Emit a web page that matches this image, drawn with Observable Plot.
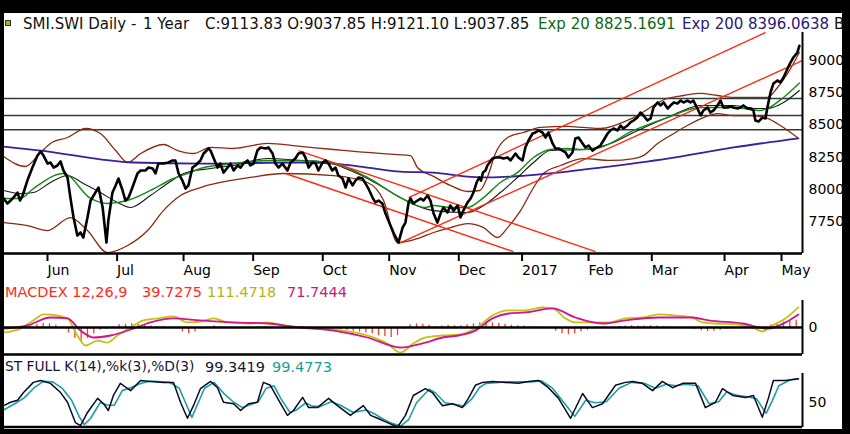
<!DOCTYPE html>
<html><head><meta charset="utf-8">
<script src="https://cdn.jsdelivr.net/npm/d3@7"></script>
<script src="https://cdn.jsdelivr.net/npm/@observablehq/plot@0.6"></script>
<style>
html,body{margin:0;padding:0;background:#fff;}
#wrap{position:relative;width:850px;height:434px;background:#fff;overflow:hidden;font-family:"DejaVu Sans",sans-serif;}
#border{position:absolute;left:0;top:0;width:850px;height:434px;box-sizing:border-box;border-style:solid;border-color:#000;border-width:13px 8px 5px 4px;z-index:20;pointer-events:none;}
.t{position:absolute;white-space:nowrap;line-height:1;}
.h{font-size:15px;top:17px;}
.s{font-size:14.5px;}
#icon{position:absolute;left:5px;top:20px;width:4px;height:4px;background:#a8a830;border:1px solid #333;}
</style></head>
<body><div id="wrap">
<div id="icon"></div>
<span class="t h" style="left:23px;color:#111">SMI.SWI Daily -</span>
<span class="t h" style="left:143px;color:#111">1 Year</span>
<span class="t h" style="left:205px;color:#111">C:9113.83 O:9037.85 H:9121.10 L:9037.85</span>
<span class="t h" style="left:538px;color:#0e6a12">Exp 20 8825.1691</span>
<span class="t h" style="left:682px;color:#2c1878">Exp 200 8396.0638</span>
<span class="t h" style="left:834px;color:#111">Bo</span>
<span class="t s" style="left:5px;top:285px;color:#ff2a1a">MACDEX 12,26,9</span>
<span class="t s" style="left:142px;top:285px;color:#ff2a1a">39.7275</span>
<span class="t s" style="left:207px;top:285px;color:#b4b414">111.4718</span>
<span class="t s" style="left:287px;top:285px;color:#c4187c">71.7444</span>
<span class="t s" style="left:5px;top:360px;color:#141432;font-size:13.8px">ST FULL K(14),%k(3),%D(3)</span>
<span class="t s" style="left:205px;top:360px;color:#141432">99.3419</span>
<span class="t s" style="left:272px;top:360px;color:#1a9e96">99.4773</span>
<div id="border"></div>
</div>
<script>
// ---- axis / reference values ----
const monthDays=[0,22,43,65,87,108,130,150,171,191,214,232];
const monthLabels=["Jun","Jul","Aug","Sep","Oct","Nov","Dec","2017","Feb","Mar","Apr","May"];
const priceTicks=[7750,8000,8250,8500,8750,9000];
const supportLevels=[8705,8573,8462];
const xDomain=[-14.54,238.0];
const priceDomain=[7502,9217];

// ---- close (trading-day index from 1 Jun 2016) ----
const closeDay=[-14.5,-13.3,-12.3,-11.4,-10.1,-9.3,-8.5,-7.0,-5.4,-3.8,-2.8,-1.9,-0.6,0.3,1.3,2.5,3.5,4.4,5.7,6.6,7.6,8.8,9.8,10.7,12.0,13.0,14.5,15.5,16.8,18.0,18.6,19.9,20.9,21.8,23.1,24.0,25.0,26.2,27.8,28.8,30.3,31.3,32.6,33.5,34.4,36.0,37.6,38.9,39.8,40.8,42.0,43.0,43.9,45.2,46.1,47.7,48.7,50.3,50.9,51.8,53.1,54.0,55.0,56.3,57.2,58.2,59.4,60.4,61.3,62.6,63.5,64.5,65.7,66.7,68.3,69.2,70.5,71.4,72.4,73.6,75.2,76.2,77.7,78.7,80.0,80.9,81.9,83.1,84.1,85.0,86.3,87.2,88.2,89.4,90.4,91.3,92.6,93.6,94.5,95.8,96.7,97.7,98.9,99.9,100.8,102.1,103.0,104.0,105.2,106.2,107.1,108.7,110.3,111.6,112.5,113.5,114.1,115.0,116.3,117.3,118.2,119.5,120.4,121.4,122.6,123.6,124.5,125.8,126.7,127.7,129.0,129.9,130.8,132.1,133.1,134.0,135.0,135.8,136.4,137.0,137.8,138.4,140.0,141.0,142.5,143.5,144.8,145.7,147.3,148.2,149.5,150.4,151.4,152.7,153.6,154.6,155.8,156.8,157.7,159.0,159.9,160.9,162.1,163.1,164.0,165.3,166.2,167.2,168.5,169.4,170.4,171.6,172.6,174.1,175.1,176.4,177.3,178.3,179.5,180.5,181.4,182.7,183.6,184.6,185.8,186.8,187.7,189.0,190.0,190.9,192.2,193.2,194.1,195.4,196.3,197.3,198.5,199.5,200.4,201.6,202.6,203.5,204.8,205.8,206.7,208.0,208.9,209.9,211.1,212.1,213.0,214.3,215.2,216.2,217.5,218.4,219.3,220.6,221.6,222.5,223.1,224.1,225.3,226.3,226.9,227.9,228.8,230.1,231.0,232.0,233.3,234.2,235.1,236.4,237.0];
const closeVal=[7929,7890,7913,7936,7975,7913,7952,8068,8169,8262,8293,8262,8200,8208,8169,8185,8216,8146,8092,7936,7781,7641,7665,7626,7781,7913,7975,8014,7859,7587,7758,7975,8030,8084,7991,7913,7936,8014,8123,8146,8146,8169,8162,8123,8200,8200,8208,8224,8224,8123,8068,8006,8030,8169,8185,8224,8278,8317,8301,8247,8169,8200,8130,8169,8200,8146,8185,8169,8200,8224,8185,8200,8301,8325,8317,8325,8278,8200,8169,8200,8146,8208,8239,8278,8286,8247,8169,8208,8200,8146,8208,8224,8200,8146,8169,8107,8084,8014,8084,8030,8068,8092,8084,8045,8006,7936,7898,7913,7890,7812,7758,7665,7587,7703,7742,7898,7929,7890,7913,7929,7913,7952,7913,7812,7742,7812,7859,7820,7874,7835,7874,7781,7835,7898,7929,7975,8053,8092,8068,8130,8146,8185,8239,8247,8247,8239,8247,8224,8278,8247,8224,8325,8379,8433,8441,8457,8441,8402,8441,8356,8317,8317,8301,8286,8247,8286,8394,8402,8356,8325,8340,8301,8317,8340,8379,8433,8457,8472,8457,8495,8472,8495,8519,8534,8557,8596,8573,8534,8550,8635,8674,8651,8674,8627,8651,8674,8666,8689,8674,8689,8674,8689,8627,8573,8612,8635,8596,8612,8651,8689,8635,8635,8643,8635,8627,8635,8651,8627,8627,8612,8534,8526,8557,8550,8635,8752,8821,8845,8829,8868,8938,8984,9023,9062,9114];

// ---- overlays ----
const ema200Day=[-14.5,-2.8,26.5,47.7,79.3,89.8,100.5,110.9,121.4,132.1,139.4,150.4,163.7,174.1,195.3,216.2,236.7];
const ema200Val=[8332,8301,8208,8200,8208,8200,8169,8138,8130,8099,8092,8107,8138,8169,8239,8325,8396];
const ema20Day=[-14.5,-9.2,-5.1,4.4,13.0,18.3,24.6,31.9,39.2,43.6,47.7,58.2,68.9,79.3,89.8,100.5,110.9,118.8,121.4,126.7,132.1,137.2,142.5,147.9,153.0,158.3,163.7,168.8,174.1,184.6,195.3,205.8,216.2,224.7,226.9,232.0,237.0];
const ema20Val=[7929,7929,8006,8123,7929,7890,7913,7991,8084,8123,8162,8200,8224,8224,8200,8092,7936,7859,7874,7859,7859,7936,8053,8130,8247,8309,8317,8309,8325,8457,8557,8635,8635,8612,8627,8713,8825];
const bbMidDay=[-14.5,-9.2,-5.1,0.3,5.7,10.7,16.1,21.5,25.6,31.9,37.3,42.4,50.9,58.2,68.9,79.3,87.9,95.1,100.5,105.6,110.9,121.4,132.1,137.2,142.5,147.9,153.0,158.3,168.8,177.3,184.6,195.3,205.8,216.2,223.8,226.9,232.0,237.0];
const bbMidVal=[7991,7967,7975,8053,8107,8045,7975,7898,7859,7952,8045,8123,8162,8185,8239,8224,8208,8146,8084,8014,7936,7835,7820,7874,7975,8092,8208,8301,8309,8356,8441,8557,8651,8651,8627,8627,8674,8767];
const bbUpDay=[-14.5,-7.6,-2.8,0.3,5.7,11.4,16.1,20.9,24.7,28.8,36.0,40.5,45.5,50.9,58.2,68.9,79.3,89.8,100.5,110.0,114.1,116.3,121.4,126.7,132.1,136.0,138.5,140.8,144.8,149.8,155.2,163.7,168.8,174.1,184.6,195.3,200.4,205.8,211.1,216.2,224.7,226.9,230.1,233.3,237.0];
const bbUpVal=[8255,8177,8286,8356,8402,8472,8433,8301,8208,8278,8348,8301,8278,8325,8317,8356,8333,8309,8286,8270,8262,8169,8100,8030,7983,7991,8100,8270,8402,8441,8480,8488,8480,8472,8557,8705,8728,8744,8728,8713,8713,8713,8790,8899,9062];
const bbLoDay=[-14.5,-7.0,-0.6,6.6,12.0,18.3,24.7,31.0,36.0,41.4,47.7,63.5,74.0,89.8,100.5,105.6,110.0,114.1,116.3,121.4,126.7,132.1,137.2,141.6,144.8,148.9,153.0,156.1,161.5,168.8,177.3,184.6,187.7,192.2,197.3,201.6,206.7,211.1,216.2,221.6,226.9,231.0,236.4];
const bbLoVal=[7742,7719,7680,7781,7680,7509,7564,7680,7835,7952,8014,8092,8123,8107,8053,7913,7587,7602,7618,7665,7703,7734,7703,7626,7703,7835,8014,8123,8185,8239,8224,8239,8262,8356,8433,8495,8557,8588,8573,8573,8550,8495,8402];
const trendX1=[78.7,74.6,110.3,113.5];
const trendY1=[8301,8123,7579,7936];
const trendX2=[172.6,146.6,238.0,226.3];
const trendY2=[7517,7517,8999,9217];

// ---- MACD ----
const macdDay=[-14.5,-9.2,-5.1,-1.9,2.5,5.7,8.8,11.4,15.2,18.3,21.5,26.5,29.7,34.1,39.2,43.6,47.7,51.8,56.3,63.5,68.9,74.0,79.3,89.8,100.5,106.8,110.9,115.0,118.8,124.2,129.3,134.6,140.0,145.1,150.4,155.8,159.0,163.1,166.2,171.6,176.7,182.0,187.4,192.5,197.8,203.2,206.4,210.5,216.8,222.2,225.3,228.5,232.6,236.7];
const macdVal=[-28,-6,39,72,66,50,-44,-99,-72,-83,-44,11,39,50,61,28,33,50,28,22,28,11,0,-11,-44,-88,-138,-88,-55,-44,-39,-6,66,94,94,110,105,50,28,28,28,50,55,72,66,55,28,22,17,0,-22,11,50,111];
const signalDay=[-14.5,-7.0,0.3,5.7,9.8,13.9,19.3,26.5,31.9,39.2,47.7,58.2,68.9,79.3,89.8,100.5,110.9,118.8,124.2,129.3,134.6,140.0,145.1,150.4,159.0,166.2,174.8,182.0,192.5,203.2,208.3,219.0,227.2,232.6,236.7];
const signalVal=[-6,11,55,50,-17,-55,-44,-6,28,50,39,28,22,0,-17,-55,-110,-83,-55,-44,-17,50,77,83,105,55,22,39,55,55,39,22,-6,28,72];
const histDay=[-14,-12,-10,-8,-6,-4,-2,0,2,4,6,8,10,12,14,16,18,20,22,24,26,28,30,32,34,36,38,40,42,44,46,48,50,52,54,56,58,60,62,64,66,68,70,72,74,76,78,80,82,84,86,88,90,92,94,96,98,100,102,104,106,108,110,112,114,116,118,120,122,124,126,128,130,132,134,136,138,140,142,144,146,148,150,152,154,156,158,160,162,164,166,168,170,172,174,176,178,180,182,184,186,188,190,192,194,196,198,200,202,204,206,208,210,212,214,216,218,220,222,224,226,228,230,232,234,236];
const histVal=[-5,-5,-3,3,8,15,22,20,12,-5,-30,-60,-80,-60,-35,-15,-8,5,15,18,20,18,12,8,5,5,-3,-10,-25,-35,-25,-10,5,10,5,-5,-8,-5,-3,-3,3,5,3,-3,-8,-8,-3,3,2,-3,-6,-8,-8,-12,-15,-20,-25,-30,-35,-45,-50,-55,-45,-10,15,20,18,12,5,8,12,10,10,15,20,25,28,25,22,18,12,10,8,5,3,0,-5,-20,-35,-40,-35,-25,-15,-10,-5,-3,3,5,8,10,8,8,10,8,5,3,0,-3,-5,-10,-18,-22,-20,-15,-10,-8,-5,-5,-10,-22,-20,15,25,30,35,40];
const macdTicks=[0];
const macdDomain=[-148.5,148.5];

// ---- Stochastic ----
const kDay=[-14.5,-12.3,-10.1,-8.2,-5.1,-2.8,0.3,3.5,5.7,8.2,9.8,12.0,15.2,17.1,18.6,20.2,22.4,25.6,28.8,31.9,36.0,39.2,41.4,43.6,45.5,47.7,50.9,53.1,55.0,58.2,60.4,62.9,65.7,67.6,69.8,72.1,75.2,77.1,80.0,81.9,84.7,88.2,91.0,95.1,99.2,101.5,103.7,106.8,110.0,112.5,115.0,118.8,121.0,124.2,127.4,130.5,132.4,134.6,136.9,140.0,144.1,148.2,151.4,154.6,157.7,160.9,164.7,168.5,171.6,174.8,178.9,182.0,184.3,187.4,190.6,193.7,196.9,200.1,204.2,207.3,210.5,212.7,215.9,220.0,222.5,225.3,227.2,228.8,232.6,236.7];
const kVal=[44,51,55,71,92,96,90,71,51,9,3,30,59,48,34,65,90,75,96,94,92,92,51,18,44,79,94,81,51,48,34,48,51,92,86,59,24,34,61,40,40,59,44,24,44,24,18,9,0,24,65,79,71,44,48,40,59,86,92,94,92,90,94,96,81,59,18,69,40,48,86,92,94,90,75,94,81,90,90,40,51,79,65,61,65,20,59,96,96,99.34];
const dDay=[-14.5,-11,-8,-5,-2,1,4,7,9.5,11,13,16,18.5,20.5,23,26,29,32,38,41,43,45,47,49,52,55,58,61,63,66,68.5,71,73,76,78,81,83,85.5,89,92,96,100,102.5,105,108,111,113.5,116,120,122,125,128,131,133.5,136,138,144,152,155.5,159,162,166,169.5,172.5,176,180,184,188,191.5,195,198,201,205,208.5,211.5,214,217,221,223.5,226.5,228.5,230.5,234,236.7];
const dVal=[35,48,60,80,94,93,80,55,20,5,18,50,45,45,75,82,90,95,92,80,50,20,50,80,92,70,52,40,45,52,80,85,60,30,35,50,43,42,52,45,30,35,28,18,8,2,15,50,78,70,50,47,43,58,82,90,93,93,95,80,55,22,55,50,52,80,92,90,80,88,85,88,85,48,52,72,66,62,58,28,55,85,97,99.48];
const stochTicks=[50];
const stochDomain=[-1,110.3];

const FONT="DejaVu Sans, sans-serif";
const baseStyle={background:"transparent",fontFamily:FONT,fontSize:"14px",overflow:"visible",color:"#000"};
const wrap=document.getElementById("wrap");
const border=document.getElementById("border");
function place(svg,top){svg.style.position="absolute";svg.style.left="0px";svg.style.top=top+"px";wrap.insertBefore(svg,border);}
const ser=(days,vals,opts)=>Plot.line(days,{x:d=>d,y:(d,i)=>vals[i],...opts});

const main=Plot.plot({
  width:850,height:285,marginTop:32,marginBottom:32,marginLeft:3,marginRight:48,
  style:baseStyle,
  x:{domain:xDomain,label:null},
  y:{domain:priceDomain,label:null},
  marks:[
    Plot.ruleY(supportLevels,{stroke:"#2c3c3c",strokeWidth:1.5}),
    ser(bbUpDay,bbUpVal,{stroke:"#8a2a0e",strokeWidth:1.3,curve:"monotone-x"}),
    ser(bbLoDay,bbLoVal,{stroke:"#8a2a0e",strokeWidth:1.3,curve:"monotone-x"}),
    ser(ema200Day,ema200Val,{stroke:"#3a1e9c",strokeWidth:1.8,curve:"monotone-x"}),
    ser(bbMidDay,bbMidVal,{stroke:"#1a1a1a",strokeWidth:1.1,curve:"monotone-x"}),
    ser(ema20Day,ema20Val,{stroke:"#138a18",strokeWidth:1.4,curve:"monotone-x"}),
    Plot.link(trendX1,{x1:d=>d,y1:(d,i)=>trendY1[i],x2:(d,i)=>trendX2[i],y2:(d,i)=>trendY2[i],stroke:"#ff2a14",strokeWidth:1.4,clip:true}),
    ser(closeDay,closeVal,{stroke:"#000",strokeWidth:2.6,strokeLinejoin:"round"}),
    Plot.ruleY([priceDomain[0]],{stroke:"#000",strokeWidth:2.5}),
    Plot.ruleX([xDomain[1]],{stroke:"#000",strokeWidth:2}),
    Plot.axisX({ticks:monthDays,tickFormat:d=>monthLabels[monthDays.indexOf(d)],tickSize:8,tickPadding:4,textAnchor:"start",dx:-2,strokeWidth:2,label:null}),
    Plot.axisY({anchor:"right",ticks:priceTicks,tickFormat:d=>String(d),tickSize:0,tickPadding:6,label:null})
  ]
});
place(main,0);

const macd=Plot.plot({
  width:850,height:60,marginTop:4,marginBottom:2,marginLeft:3,marginRight:48,
  style:baseStyle,
  x:{domain:xDomain,axis:null},
  y:{domain:macdDomain,label:null},
  marks:[
    Plot.ruleX(histDay,{x:d=>d,y1:0,y2:(d,i)=>histVal[i],stroke:"#ff3b20",strokeWidth:1.3}),
    ser(macdDay,macdVal,{stroke:"#c2c414",strokeWidth:1.8,curve:"monotone-x"}),
    ser(signalDay,signalVal,{stroke:"#d4148c",strokeWidth:1.8,curve:"monotone-x"}),
    Plot.ruleY([0],{stroke:"#000",strokeWidth:2.5}),
    Plot.ruleY([macdDomain[0]],{stroke:"#000",strokeWidth:2.5}),
    Plot.ruleX([xDomain[1]],{stroke:"#000",strokeWidth:2}),
    Plot.axisY({anchor:"right",ticks:macdTicks,tickFormat:d=>String(d),tickSize:0,tickPadding:6,label:null})
  ]
});
place(macd,296);

const stoch=Plot.plot({
  width:850,height:62,marginTop:5,marginBottom:3,marginLeft:3,marginRight:48,
  style:baseStyle,
  x:{domain:xDomain,axis:null},
  y:{domain:stochDomain,label:null},
  marks:[
    ser(dDay,dVal,{stroke:"#1aa0a0",strokeWidth:1.6}),
    ser(kDay,kVal,{stroke:"#0a0a28",strokeWidth:1.5}),
    Plot.ruleY([0],{stroke:"#000",strokeWidth:2.5}),
    Plot.ruleX([xDomain[1]],{stroke:"#000",strokeWidth:2}),
    Plot.axisY({anchor:"right",ticks:stochTicks,tickFormat:d=>String(d),tickSize:0,tickPadding:6,label:null})
  ]
});
place(stoch,368);
</script>
</body></html>
